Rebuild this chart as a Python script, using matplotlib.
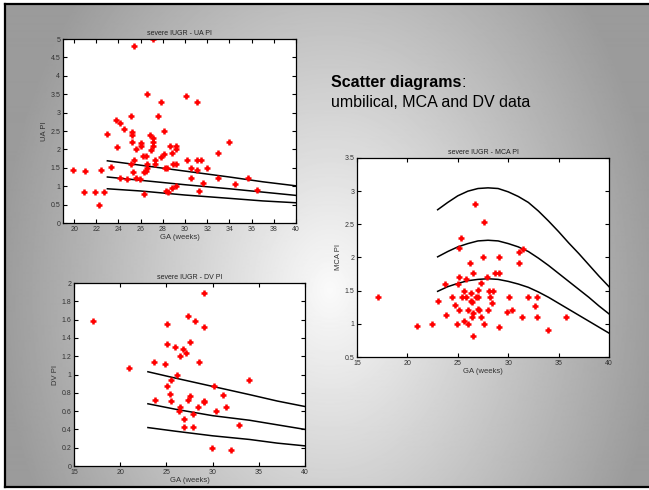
import numpy as np
import matplotlib
matplotlib.use("Agg")
from matplotlib import pyplot as plt
from matplotlib.lines import Line2D

plt.rcParams['font.family'] = ['Liberation Sans', 'DejaVu Sans']

# UA PI scatter (GA weeks, PI)
ua_ga = [19.9, 21.0, 20.9, 21.9, 22.2, 22.4, 22.7, 23.0, 23.3, 23.8, 24.1, 23.9, 24.1, 24.5,
         24.8, 25.1, 25.2, 25.2, 25.2, 25.1, 25.3, 25.4, 25.4, 25.6, 25.6, 25.9, 26.0, 26.0,
         26.2, 26.5, 26.3, 26.5, 26.3, 26.6, 26.6, 26.6, 26.8, 26.9, 27.1, 27.1, 27.1, 27.1,
         27.3, 27.3, 27.6, 27.8, 27.8, 28.1, 28.1, 28.2, 28.4, 28.3, 28.5, 28.6, 28.8, 28.8,
         28.9, 29.2, 29.2, 29.2, 29.2, 30.1, 30.2, 30.5, 30.5, 31.1, 31.1, 31.1, 31.4, 31.3,
         31.6, 32.0, 33.0, 33.0, 34.0, 34.5, 35.7, 36.5]
ua_pi = [1.44, 1.41, 0.85, 0.85, 0.50, 1.45, 0.83, 2.41, 1.51, 2.80, 2.73, 2.07, 1.21, 2.55,
         1.20, 2.90, 2.48, 2.40, 2.21, 1.59, 1.39, 1.71, 4.80, 2.00, 1.21, 1.19, 2.18, 2.09,
         1.82, 1.82, 1.39, 1.41, 0.80, 3.50, 1.59, 1.50, 2.38, 1.98, 2.30, 2.21, 2.10, 5.00,
         1.71, 1.59, 2.90, 3.30, 1.80, 2.50, 1.87, 1.50, 1.50, 0.86, 0.83, 2.10, 1.91, 0.94,
         1.59, 1.59, 2.10, 2.00, 1.00, 3.44, 1.71, 1.50, 1.21, 1.44, 3.30, 1.71, 1.71, 0.86,
         1.10, 1.50, 1.89, 1.21, 2.21, 1.05, 1.21, 0.91]
ua_ref_ga = [23, 26, 30, 34, 37, 40]
ua_ref_hi = [1.69, 1.57, 1.41, 1.25, 1.12, 1.01]
ua_ref_mid = [1.25, 1.16, 1.04, 0.93, 0.84, 0.75]
ua_ref_lo = [0.93, 0.87, 0.76, 0.67, 0.60, 0.55]

# DV PI scatter
dv_ga = [17.1, 21.0, 23.7, 23.8, 24.9, 25.1, 25.1, 25.1, 25.4, 25.5, 25.5, 25.9, 26.2, 26.5,
         26.5, 26.4, 26.8, 27.1, 26.9, 26.9, 27.3, 27.3, 27.5, 27.6, 28.1, 27.9, 27.9, 28.4,
         28.5, 29.1, 29.1, 29.1, 29.1, 29.9, 30.1, 30.4, 31.1, 31.4, 32.0, 32.9, 33.9]
dv_pi = [1.59, 1.07, 1.14, 0.72, 1.11, 1.55, 1.33, 0.87, 0.79, 0.94, 0.71, 1.30, 1.00, 1.20,
         0.65, 0.60, 1.28, 1.23, 0.51, 0.43, 1.64, 0.72, 0.76, 1.35, 1.59, 0.57, 0.43, 0.65,
         1.14, 1.89, 1.52, 0.71, 0.70, 0.20, 0.87, 0.60, 0.78, 0.65, 0.17, 0.45, 0.94]
dv_ref_ga = [23, 26, 30, 34, 37, 40]
dv_ref_hi = [1.03, 0.96, 0.87, 0.78, 0.71, 0.65]
dv_ref_mid = [0.68, 0.62, 0.55, 0.50, 0.45, 0.40]
dv_ref_lo = [0.42, 0.38, 0.33, 0.29, 0.25, 0.22]

# MCA PI scatter
mca_ga = [17.1, 21.0, 22.4, 23.0, 23.7, 23.8, 24.4, 24.7, 24.9, 25.0, 25.1, 25.1, 25.1, 25.3,
          25.4, 25.6, 25.6, 25.8, 25.8, 26.0, 26.0, 26.2, 26.3, 26.3, 26.4, 26.4, 26.5, 26.5,
          26.5, 26.7, 26.8, 27.0, 27.0, 27.0, 27.1, 27.3, 27.3, 27.5, 27.6, 27.6, 27.9, 28.0,
          28.1, 28.2, 28.4, 28.5, 28.7, 29.1, 29.1, 29.1, 29.9, 30.1, 30.4, 31.1, 31.1, 31.5,
          31.4, 32.0, 32.7, 32.9, 32.9, 33.9, 35.7]
mca_pi = [1.41, 0.97, 1.00, 1.35, 1.60, 1.14, 1.41, 1.28, 1.00, 1.60, 1.71, 2.14, 1.21, 2.30,
          1.41, 1.50, 1.05, 1.41, 1.68, 1.00, 1.21, 1.91, 1.47, 1.35, 1.33, 1.10, 1.76, 0.81,
          1.16, 2.81, 1.41, 1.51, 1.41, 1.22, 1.21, 1.61, 1.10, 2.00, 1.00, 2.54, 1.71, 1.21,
          1.50, 1.41, 1.31, 1.50, 1.76, 1.76, 2.00, 0.95, 1.18, 1.41, 1.21, 2.09, 1.91, 2.13,
          1.10, 1.41, 1.27, 1.41, 1.11, 0.91, 1.11]
mca_ref_ga = [23, 24, 25, 26, 27, 28, 29, 30, 31, 32, 33, 34, 35, 36, 37, 38, 39, 40]
mca_ref_hi = [2.72, 2.83, 2.93, 3.00, 3.04, 3.05, 3.04, 2.99, 2.92, 2.83, 2.70, 2.55, 2.39,
              2.22, 2.06, 1.89, 1.72, 1.56]
mca_ref_mid = [2.01, 2.09, 2.16, 2.21, 2.25, 2.26, 2.25, 2.21, 2.16, 2.09, 1.99, 1.88, 1.76,
               1.64, 1.52, 1.40, 1.27, 1.15]
mca_ref_lo = [1.49, 1.56, 1.61, 1.65, 1.67, 1.68, 1.67, 1.64, 1.60, 1.55, 1.48, 1.40, 1.31,
              1.22, 1.13, 1.04, 0.95, 0.86]

W, H = 649, 490
fig = plt.figure(figsize=(W / 100, H / 100), dpi=100, facecolor='white')

# slide background with a soft gray gradient
bg = fig.add_axes([5 / W, 3 / H, 644 / W, 483 / H])
bg.set_axis_off()
xx, yy = np.meshgrid(np.arange(5, W), np.arange(4, 487))
r = np.sqrt(((xx - 330) / 330.0) ** 2 + ((yy - 290) / 450.0) ** 2)
val = np.clip(250 - 95 * r, 155, 255) / 255.0
bg.imshow(val, cmap='gray', vmin=0, vmax=1, aspect='auto', interpolation='bilinear')

for x0, y0, x1, y1 in [(5, 4, W, 4), (5, 4, 5, 487), (5, 487, W, 487)]:
    fig.add_artist(Line2D([x0 / W, x1 / W], [1 - y0 / H, 1 - y1 / H], color='black', lw=1.6))


def panel(rect, ga, pi, ref_ga, refs, title, ylabel, xlim, ylim, xticks, yticks):
    ax = fig.add_axes(rect)
    ax.set_facecolor('white')
    for ref in refs:
        ax.plot(ref_ga, ref, color='black', lw=1.1)
    ax.plot(ga, pi, linestyle='none', marker='+', color='#ff0000', ms=4.5, mew=1.8)
    ax.set_xlim(xlim)
    ax.set_ylim(ylim)
    ax.set_xticks(xticks)
    ax.set_yticks(yticks)
    ax.set_yticklabels(['%g' % v for v in yticks])
    ax.tick_params(direction='in', top=True, right=True, length=3, width=0.8,
                   labelsize=5, pad=2, colors='black', labelcolor='#333333')
    for s in ax.spines.values():
        s.set_linewidth(0.9)
    ax.set_title(title, fontsize=5, pad=3, color='#222222')
    ax.set_xlabel('GA (weeks)', fontsize=5.5, labelpad=1, color='#333333')
    ax.set_ylabel(ylabel, fontsize=5.5, labelpad=2, color='#333333')
    return ax


panel([63 / W, 1 - 223 / H, 233 / W, 184 / H], ua_ga, ua_pi, ua_ref_ga,
      [ua_ref_hi, ua_ref_mid, ua_ref_lo], 'severe IUGR - UA PI', 'UA PI',
      (19, 40), (0, 5), np.arange(20, 41, 2), np.arange(0, 5.01, 0.5))

panel([74 / W, 1 - 466 / H, 231 / W, 183 / H], dv_ga, dv_pi, dv_ref_ga,
      [dv_ref_hi, dv_ref_mid, dv_ref_lo], 'severe IUGR - DV PI', 'DV PI',
      (15, 40), (0, 2), np.arange(15, 41, 5), np.arange(0, 2.01, 0.2))

mca_ax = panel([357 / W, 1 - 357 / H, 252 / W, 199 / H], mca_ga, mca_pi, mca_ref_ga,
               [mca_ref_hi, mca_ref_mid, mca_ref_lo], 'severe IUGR - MCA PI', 'MCA PI',
               (15, 40), (0.5, 3.5), np.arange(15, 41, 5), np.arange(0.5, 3.51, 0.5))

# heading: bold part followed by a plain colon
t1 = fig.text(331 / W, 1 - 90 / H, 'Scatter diagrams', fontsize=11.5, fontweight='bold',
              color='black', va='bottom')
mca_ax.annotate(':', xy=(1, 0), xycoords=t1, fontsize=11.5, color='black', va='bottom',
                annotation_clip=False)
fig.text(331 / W, 1 - 110 / H, 'umbilical, MCA and DV data', fontsize=11.5,
         color='black', va='bottom')

fig.savefig('out.png', dpi=100, facecolor='white')
